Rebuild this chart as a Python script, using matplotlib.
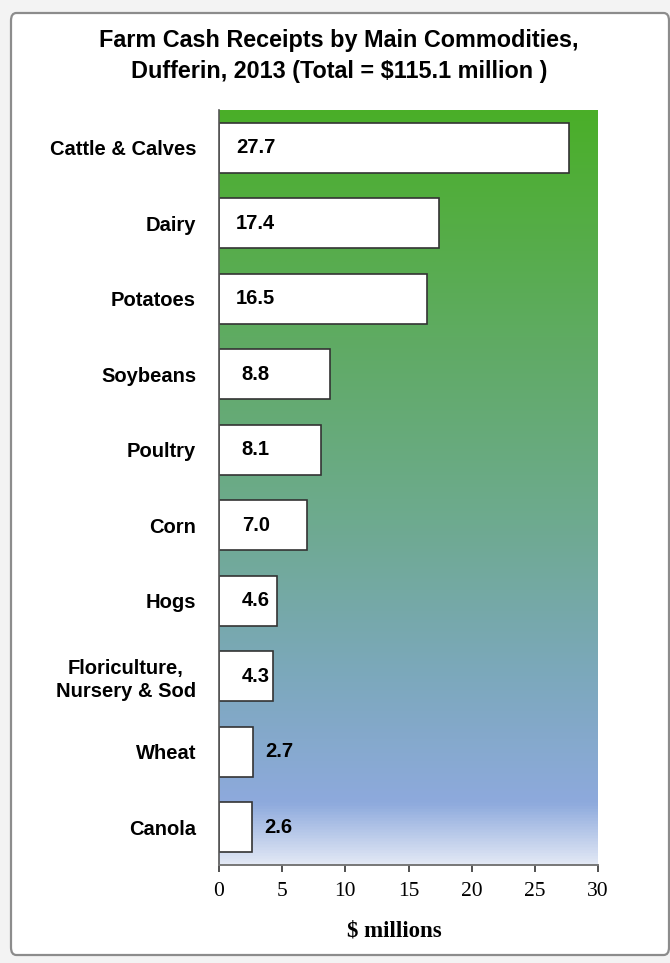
import matplotlib
matplotlib.use("Agg")
import matplotlib.pyplot as plt
import numpy as np
from matplotlib.colors import LinearSegmentedColormap
from matplotlib.patches import FancyBboxPatch

categories = ["Cattle & Calves", "Dairy", "Potatoes", "Soybeans", "Poultry",
              "Corn", "Hogs", "Floriculture,\nNursery & Sod", "Wheat", "Canola"]
values = [27.7, 17.4, 16.5, 8.8, 8.1, 7.0, 4.6, 4.3, 2.7, 2.6]
xticks = [0, 5, 10, 15, 20, 25, 30]
title = "Farm Cash Receipts by Main Commodities,\nDufferin, 2013 (Total = $115.1 million )"
xlabel = "$ millions"

W, H = 670, 963
fig = plt.figure(figsize=(W / 100, H / 100), dpi=100)
fig.patch.set_facecolor("#f3f3f3")

# chart frame (Excel-like)
frame = FancyBboxPatch((11 / W, 8 / H), (W - 12) / W, (H - 21) / H,
                       boxstyle="round,pad=0,rounding_size=0.008",
                       transform=fig.transFigure, facecolor="white",
                       edgecolor="#8c8c8c", linewidth=1.6, zorder=-5)
fig.patches.append(frame)

ax = fig.add_axes([219 / W, (H - 865) / H, (598 - 219) / W, (865 - 110) / H])
ax.set_zorder(2)
ax.set_facecolor("white")

# gradient background
cmap = LinearSegmentedColormap.from_list("bg", [
    (0.0, "#4aaf28"),
    (0.30, "#5fab62"),
    (0.55, "#6eaa90"),
    (0.75, "#7ca8bc"),
    (0.92, "#8eaadd"),
    (1.0, "#e2e8f5"),
])
grad = np.linspace(0, 1, 512).reshape(-1, 1)
ax.imshow(grad, aspect="auto", cmap=cmap, extent=[0, 30, len(categories) - 0.5, -0.5],
          zorder=0, interpolation="bilinear")

y = np.arange(len(categories))
ax.barh(y, values, height=0.66, color="white", edgecolor="#333333", linewidth=1.2, zorder=2)

for yi, v in zip(y, values):
    xpos = 2.9 if v > 4 else v + 2.1
    ax.text(xpos, yi, f"{v:.1f}", ha="center", va="center", fontsize=14.5,
            fontweight="bold", family="Liberation Sans", color="black", zorder=3)

ax.set_xlim(0, 30)
ax.set_ylim(len(categories) - 0.5, -0.5)
ax.set_yticks(y)
ax.set_yticklabels(categories, fontsize=14.5, fontweight="bold", family="Liberation Sans")
ax.tick_params(axis="y", length=0, pad=16.5)
for lbl in ax.get_yticklabels():
    lbl.set_multialignment("center")
    lbl.set_linespacing(1.25)
ax.set_xticks(xticks)
ax.set_xticklabels([str(t) for t in xticks], fontsize=15.5, family="Liberation Serif")
ax.tick_params(axis="x", direction="out", length=5, width=1.2, color="#333333", pad=7)

for s in ["top", "right"]:
    ax.spines[s].set_visible(False)
ax.spines["left"].set_color("#555555")
ax.spines["left"].set_linewidth(1.2)
ax.spines["bottom"].set_color("#777777")
ax.spines["bottom"].set_linewidth(1.4)

ax.set_xlabel(xlabel, fontsize=16.5, fontweight="bold", family="Liberation Serif")
ax.xaxis.set_label_coords(0.462, -0.074)

fig.text(339 / W, 1 - 56 / H, title, ha="center", va="center", fontsize=16.8,
         fontweight="bold", family="Liberation Sans", linespacing=1.45)

fig.savefig("out.png", dpi=100)
